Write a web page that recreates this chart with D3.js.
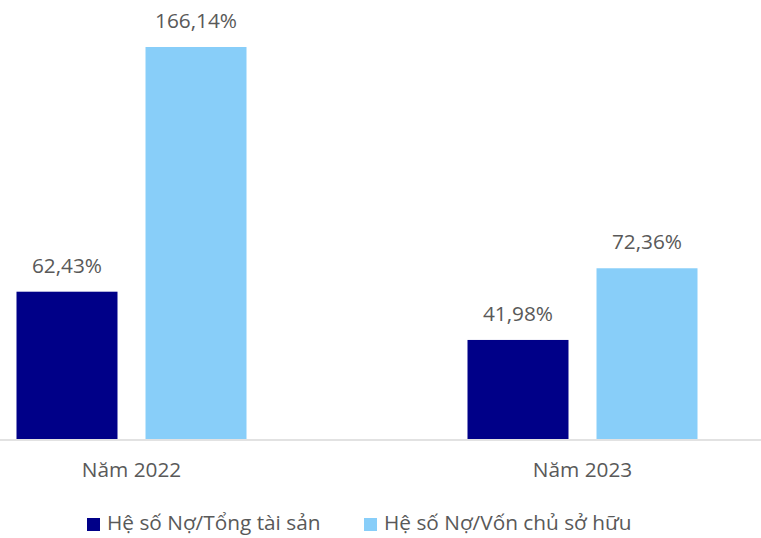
<!DOCTYPE html>
<html>
<head>
<meta charset="utf-8">
<script src="https://cdn.jsdelivr.net/npm/d3@7"></script>
<style>
  body { margin: 0; background: #fff; }
  svg text { font-family: "Open Sans", "Liberation Sans", sans-serif; fill: #595959; }
</style>
</head>
<body>
<div id="chart"></div>
<script>
// data
const years = ['Năm 2022', 'Năm 2023']
const seriesNames = ['Hệ số Nợ/Tổng tài sản', 'Hệ số Nợ/Vốn chủ sở hữu']
const debtToAssets = [62.43, 41.98]
const debtToEquity = [166.14, 72.36]
const colors = ['#000088', '#88CEF9']

const w = 761, h = 538
const baseY = 439

const rows = years.map((y, i) => ({ year: y, values: [debtToAssets[i], debtToEquity[i]] }))

const svg = d3.select('#chart').append('svg')
    .attr('width', w)
    .attr('height', h)

// groups
const x0 = d3.scaleBand()
    .domain(years)
    .range([-94, 808])
    .padding(0)

const x1 = d3.scaleBand()
    .domain(seriesNames)
    .range([0, 230])
    .paddingInner(0.2171)

const groupOffset = (x0.bandwidth() - 230) / 2

const y = d3.scaleLinear()
    .domain([0, 166.14])
    .range([baseY, 47])

const fmt = v => d3.format('.2f')(v).replace('.', ',') + '%'

let g = svg.selectAll('.grp')
    .data(rows)
    .enter()
    .append('g')
    .attr('class', 'grp')
    .attr('transform', d => 'translate(' + (x0(d.year) + groupOffset) + ',0)')

g.selectAll('rect')
    .data(d => d.values.map((v, i) => ({ name: seriesNames[i], v: v, i: i })))
    .enter()
    .append('rect')
    .attr('x', d => x1(d.name))
    .attr('y', d => y(d.v))
    .attr('width', x1.bandwidth())
    .attr('height', d => baseY - y(d.v))
    .attr('fill', d => colors[d.i])

// value labels
g.selectAll('.vlab')
    .data(d => d.values.map((v, i) => ({ name: seriesNames[i], v: v })))
    .enter()
    .append('text')
    .attr('class', 'vlab')
    .attr('x', d => x1(d.name) + x1.bandwidth() / 2)
    .attr('y', d => y(d.v) - 19)
    .attr('text-anchor', 'middle')
    .style('font-size', '20.8px')
    .text(d => fmt(d.v))

// baseline axis
svg.append('line')
    .attr('x1', 0)
    .attr('x2', w)
    .attr('y1', baseY + 1)
    .attr('y2', baseY + 1)
    .attr('stroke', '#d9d9d9')
    .attr('stroke-width', 1.5)

// category labels
svg.selectAll('.xlab')
    .data(years)
    .enter()
    .append('text')
    .attr('class', 'xlab')
    .attr('x', d => x0(d) + x0.bandwidth() / 2)
    .attr('y', 477)
    .attr('text-anchor', 'middle')
    .style('font-size', '20.8px')
    .text(d => d)

// legend
const legendX = [87, 364]
let lg = svg.selectAll('.leg')
    .data(seriesNames)
    .enter()
    .append('g')
    .attr('class', 'leg')
    .attr('transform', (d, i) => 'translate(' + legendX[i] + ',0)')

lg.append('rect')
    .attr('x', 0)
    .attr('y', 518)
    .attr('width', 13)
    .attr('height', 13)
    .attr('fill', (d, i) => colors[i])

lg.append('text')
    .attr('x', 20)
    .attr('y', 530)
    .style('font-size', '20.8px')
    .text(d => d)
</script>
</body>
</html>
